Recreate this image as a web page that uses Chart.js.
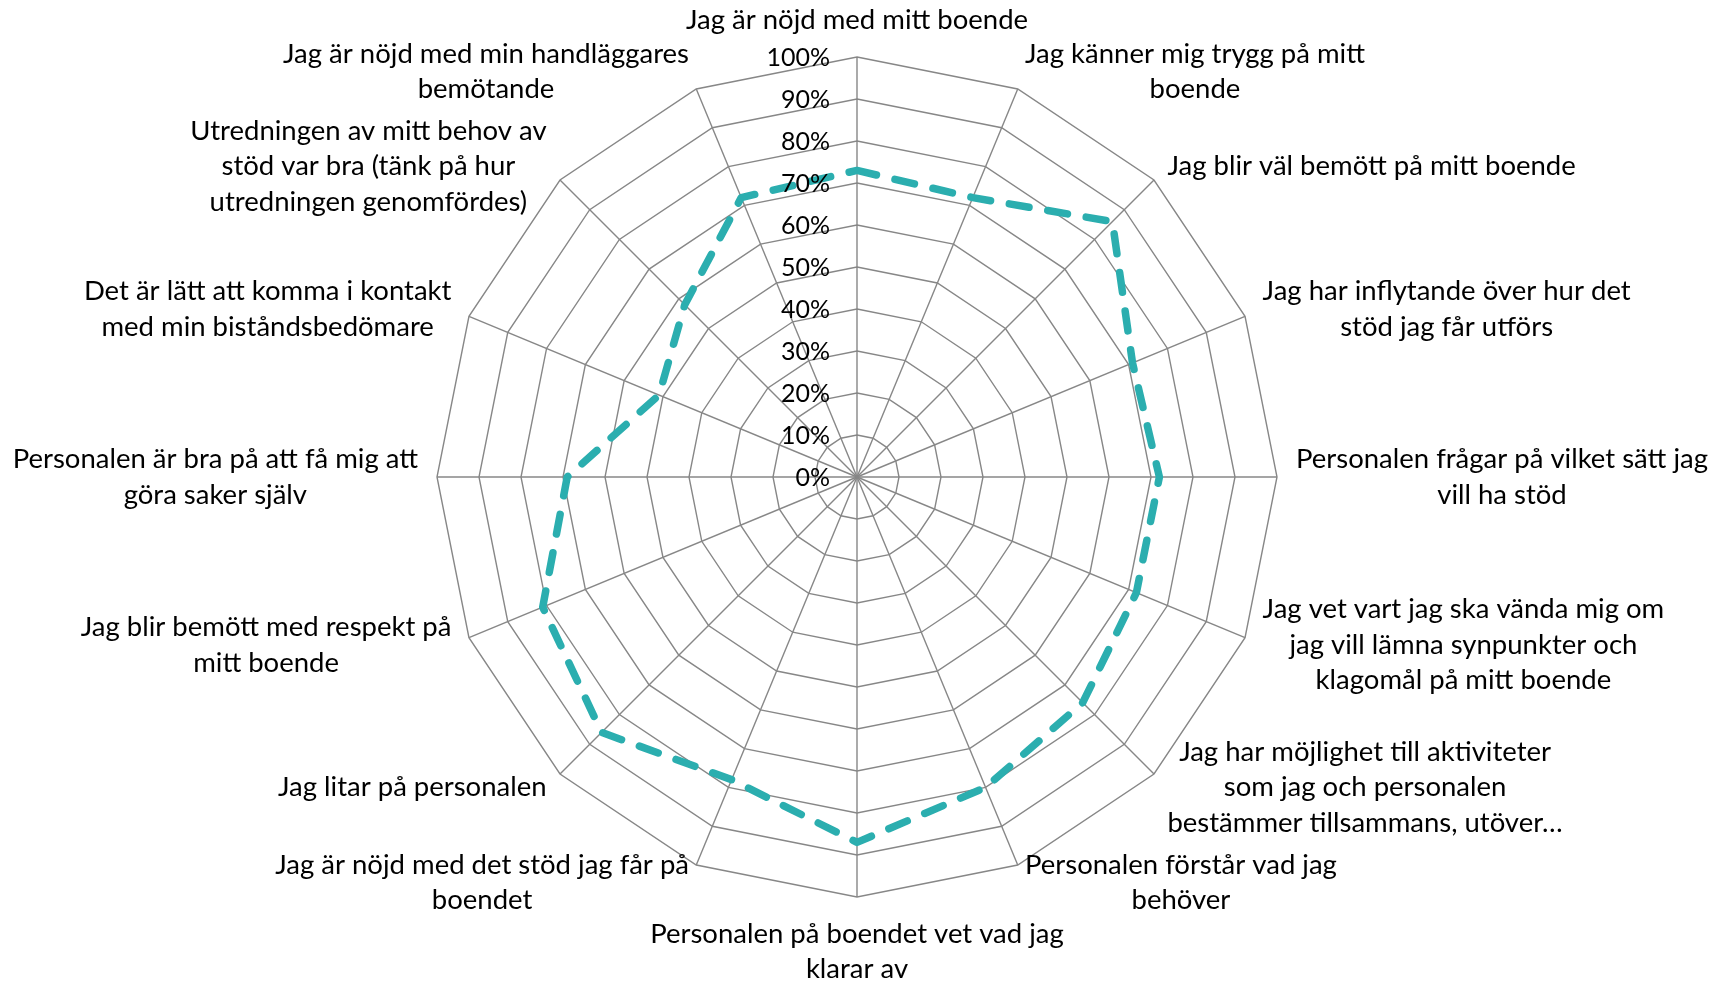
<!DOCTYPE html>
<html lang="sv">
<head>
<meta charset="utf-8">
<title>Radar</title>
<script src="https://cdn.jsdelivr.net/npm/chart.js@4/dist/chart.umd.min.js"></script>
<style>
  html, body { margin: 0; padding: 0; background: #ffffff; }
  #wrap { width: 1723px; height: 982px; }
</style>
</head>
<body>
<div id="wrap"><canvas id="radar" width="1723" height="982"></canvas></div>
<script>
"use strict";

// Category labels, one array entry per spoke (lines split as in the original)
const categories = [
  ["Jag är nöjd med mitt boende"],
  ["Jag känner mig trygg på mitt", "boende"],
  ["Jag blir väl bemött på mitt boende"],
  ["Jag har inflytande över hur det", "stöd jag får utförs"],
  ["Personalen frågar på vilket sätt jag", "vill ha stöd"],
  ["Jag vet vart jag ska vända mig om", "jag vill lämna synpunkter och", "klagomål på mitt boende"],
  ["Jag har möjlighet till aktiviteter", "som jag och personalen", "bestämmer tillsammans, utöver…"],
  ["Personalen förstår vad jag", "behöver"],
  ["Personalen på boendet vet vad jag", "klarar av"],
  ["Jag är nöjd med det stöd jag får på", "boendet"],
  ["Jag litar på personalen"],
  ["Jag blir bemött med respekt på", "mitt boende"],
  ["Personalen är bra på att få mig att", "göra saker själv"],
  ["Det är lätt att komma i kontakt", "med min biståndsbedömare"],
  ["Utredningen av mitt behov av", "stöd var bra (tänk på hur", "utredningen genomfördes)"],
  ["Jag är nöjd med min handläggares", "bemötande"]
];

// Share of positive answers (%)
const values = [73, 72, 86, 71, 72, 72, 76, 80, 87, 78, 86, 81, 69, 51, 58, 72];

// Radial axis ticks
const tickValues = [0, 10, 20, 30, 40, 50, 60, 70, 80, 90, 100];
const tickLabels = ["0%", "10%", "20%", "30%", "40%", "50%", "60%", "70%", "80%", "90%", "100%"];

const LABEL_FONT = "27.5px Lato, 'Open Sans', sans-serif";
const TICK_FONT = "25px Lato, 'Open Sans', sans-serif";
const LINE_H = 35.5;
const GRID = "#878787";

// Draws the tick labels left of the vertical spoke, Excel style
const tickLabelPlugin = {
  id: "tickLabels",
  afterDraw(chart) {
    const scale = chart.scales.r;
    const ctx = chart.ctx;
    ctx.save();
    ctx.font = TICK_FONT;
    ctx.fillStyle = "#000000";
    ctx.textAlign = "right";
    ctx.textBaseline = "middle";
    tickValues.forEach((v, i) => {
      const y = scale.yCenter - scale.getDistanceFromCenterForValue(v);
      ctx.fillText(tickLabels[i], scale.xCenter - 27, y + 1);
    });
    ctx.restore();
  }
};

// Draws the category labels outside each spoke
const pointLabelPlugin = {
  id: "categoryLabels",
  afterDraw(chart) {
    const scale = chart.scales.r;
    const ctx = chart.ctx;
    ctx.save();
    ctx.font = LABEL_FONT;
    ctx.fillStyle = "#000000";
    ctx.textAlign = "center";
    ctx.textBaseline = "middle";

    categories.forEach((lines, i) => {
      const p = scale.getPointPosition(i, scale.drawingArea + 19);
      const angle = (i / categories.length) * Math.PI * 2;
      const s = Math.sin(angle);
      const c = Math.cos(angle);
      const w = Math.max(...lines.map((t) => ctx.measureText(t).width));
      const h = lines.length * LINE_H;

      let cx = p.x;
      let cy = p.y;
      if (Math.abs(s) < 0.01) {
        cy = c > 0 ? p.y - h / 2 : p.y + h / 2;
      } else if (s > 0) {
        cx = p.x + w / 2;
      } else {
        cx = p.x - w / 2;
      }

      lines.forEach((t, k) => {
        ctx.fillText(t, cx, cy - h / 2 + LINE_H * (k + 0.5));
      });
    });
    ctx.restore();
  }
};

const ctx = document.getElementById("radar").getContext("2d");
new Chart(ctx, {
  type: "radar",
  data: {
    labels: categories,
    datasets: [
      {
        label: "Andel",
        data: values,
        fill: false,
        borderColor: "#2BAEAF",
        borderWidth: 7.5,
        borderDash: [20, 19],
        borderCapStyle: "round",
        borderJoinStyle: "round",
        pointRadius: 0,
        pointHoverRadius: 0,
        tension: 0
      }
    ]
  },
  options: {
    responsive: false,
    devicePixelRatio: 1,
    animation: false,
    layout: {
      padding: { left: 437, right: 446, top: 57, bottom: 85 }
    },
    plugins: {
      legend: { display: false },
      tooltip: { enabled: false }
    },
    scales: {
      r: {
        min: 0,
        max: 100,
        beginAtZero: true,
        ticks: { display: false, stepSize: 10 },
        pointLabels: { display: false },
        grid: { color: GRID, lineWidth: 1.4 },
        angleLines: { color: GRID, lineWidth: 1.4 }
      }
    }
  },
  plugins: [tickLabelPlugin, pointLabelPlugin]
});
</script>
</body>
</html>
